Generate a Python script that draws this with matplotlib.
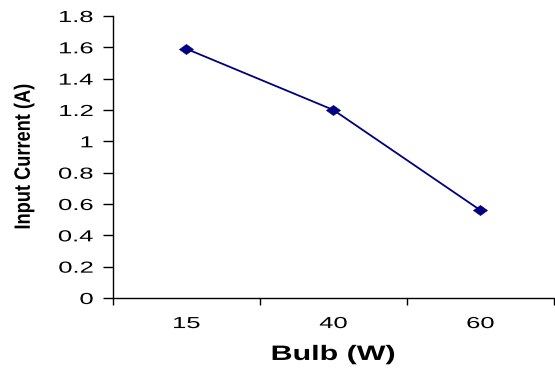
import matplotlib
matplotlib.use("Agg")
import matplotlib.pyplot as plt
from matplotlib.ticker import FixedLocator, NullFormatter
from matplotlib.patheffects import AbstractPathEffect
from matplotlib.transforms import Affine2D
import numpy as np

categories = ["15", "40", "60"]
current = [1.59, 1.20, 0.56]
y_ticks = [0, 0.2, 0.4, 0.6, 0.8, 1, 1.2, 1.4, 1.6, 1.8]
y_tick_labels = ["0", "0.2", "0.4", "0.6", "0.8", "1", "1.2", "1.4", "1.6", "1.8"]

plt.rcParams['font.family'] = ['Liberation Sans', 'DejaVu Sans']


class Stretch(AbstractPathEffect):
    """Scale glyph outlines along the text direction (keeps text as text)."""
    def __init__(self, sx=1.0, sy=1.0, anchor="center"):
        super().__init__()
        self.sx, self.sy, self.anchor = sx, sy, anchor

    def draw_path(self, renderer, gc, tpath, affine, rgbFace=None):
        ext = tpath.get_extents()
        if self.anchor == "right":
            x0 = ext.x1
        elif self.anchor == "left":
            x0 = ext.x0
        else:
            x0 = 0.5 * (ext.x0 + ext.x1)
        y0 = 0.5 * (ext.y0 + ext.y1)
        t = (Affine2D().translate(-x0, -y0).scale(self.sx, self.sy)
             .translate(x0, y0) + affine)
        renderer.draw_path(gc, tpath, t, rgbFace)


fig = plt.figure(figsize=(5.55, 3.7), dpi=100)
ax = fig.add_axes([0.2036, 0.1946, 0.7944, 0.7622])

x = np.arange(len(categories))
diamond = [(-1, 0), (0, 0.72), (1, 0), (0, -0.72), (-1, 0)]
ax.plot(x, current, color="#000080", linewidth=1.3, marker=diamond, markersize=10,
        markerfacecolor="#000080", markeredgecolor="#000080", markeredgewidth=0.5)

ax.set_xlim(-0.5, len(categories) - 0.5)
ax.set_ylim(0, 1.8)
ax.set_yticks(y_ticks)
ax.set_yticklabels(y_tick_labels, fontsize=11.5)

ax.xaxis.set_major_locator(FixedLocator(np.arange(-0.5, len(categories), 1.0)))
ax.xaxis.set_major_formatter(NullFormatter())
ax.xaxis.set_minor_locator(FixedLocator(x))
ax.set_xticklabels(categories, minor=True, fontsize=11.5)
ax.tick_params(axis="x", which="minor", length=0, pad=13)
ax.tick_params(axis="x", which="major", length=5, width=1, direction="out")
ax.tick_params(axis="y", length=7.2, width=1, direction="out", pad=7)

for s in ["top", "right"]:
    ax.spines[s].set_visible(False)
for s in ["left", "bottom"]:
    ax.spines[s].set_linewidth(1)
    ax.spines[s].set_color("black")

ylab = ax.set_ylabel("Input Current (A)", fontsize=16, fontweight="bold", labelpad=26)
xlab = ax.set_xlabel("Bulb (W)", fontsize=15, fontweight="bold", labelpad=10)

for t in ax.get_yticklabels():
    t.set_path_effects([Stretch(sx=1.6, anchor="right")])
for t in ax.get_xticklabels(minor=True):
    t.set_path_effects([Stretch(sx=1.6, anchor="center")])
xlab.set_path_effects([Stretch(sx=1.46, anchor="center")])
ylab.set_path_effects([Stretch(sx=0.82, anchor="center")])

fig.savefig("out.png", dpi=100)
